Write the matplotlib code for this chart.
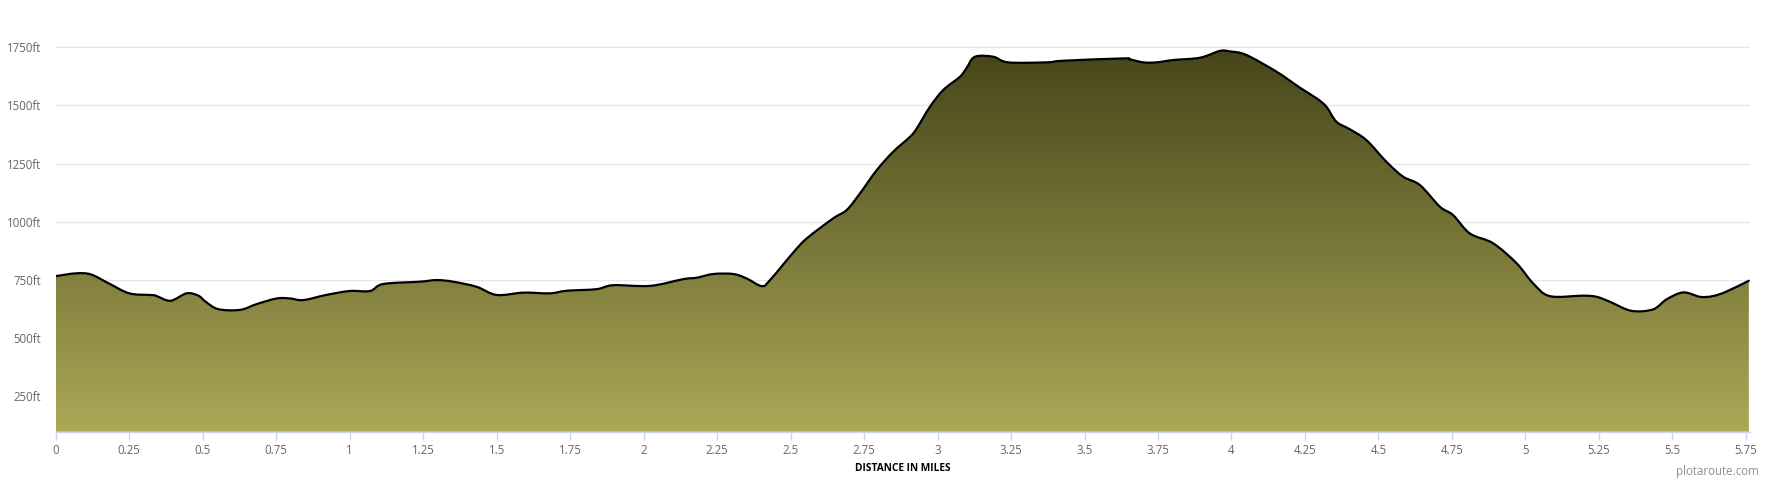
import matplotlib
matplotlib.use("Agg")
import matplotlib.pyplot as plt
import numpy as np
from matplotlib.colors import LinearSegmentedColormap
from matplotlib.path import Path
from matplotlib.patches import PathPatch

# distance in miles and elevation in feet
distance = [0.0, 0.07, 0.12, 0.18, 0.25, 0.32, 0.34, 0.39, 0.445, 0.485, 0.51, 0.553,
            0.627, 0.684, 0.752, 0.797, 0.842, 0.92, 1.0, 1.069, 1.114, 1.239, 1.296,
            1.352, 1.432, 1.5, 1.591, 1.681, 1.738, 1.84, 1.897, 2.022, 2.135, 2.18,
            2.237, 2.305, 2.35, 2.402, 2.43, 2.509, 2.555, 2.645, 2.691, 2.736, 2.793,
            2.849, 2.906, 2.929, 2.974, 3.019, 3.076, 3.098, 3.127, 3.19, 3.24, 3.371,
            3.428, 3.632, 3.654, 3.7, 3.745, 3.802, 3.893, 3.96, 3.995, 4.05, 4.153,
            4.233, 4.29, 4.323, 4.357, 4.402, 4.459, 4.527, 4.584, 4.641, 4.709, 4.754,
            4.811, 4.89, 4.97, 5.026, 5.083, 5.197, 5.242, 5.287, 5.36, 5.434, 5.48,
            5.537, 5.594, 5.637, 5.683, 5.76]
elevation = [767, 779, 774, 736, 693, 686, 683, 661, 693, 683, 657, 625,
             622, 647, 671, 671, 664, 686, 703, 703, 733, 743, 750,
             743, 721, 686, 696, 693, 704, 711, 728, 725, 754, 760,
             776, 776, 757, 724, 750, 868, 929, 1015, 1051, 1122, 1222,
             1301, 1365, 1401, 1494, 1566, 1623, 1659, 1709, 1709, 1685, 1685,
             1692, 1702, 1698, 1685, 1685, 1695, 1705, 1734, 1732, 1717, 1645,
             1576, 1530, 1494, 1430, 1398, 1351, 1258, 1194, 1158, 1065, 1029,
             950, 908, 822, 736, 681, 683, 678, 657, 618, 624, 667,
             697, 678, 681, 700, 747]

x_ticks = [0, 0.25, 0.5, 0.75, 1, 1.25, 1.5, 1.75, 2, 2.25, 2.5, 2.75, 3, 3.25,
           3.5, 3.75, 4, 4.25, 4.5, 4.75, 5, 5.25, 5.5, 5.75]
x_tick_labels = ["0", "0.25", "0.5", "0.75", "1", "1.25", "1.5", "1.75", "2", "2.25",
                 "2.5", "2.75", "3", "3.25", "3.5", "3.75", "4", "4.25", "4.5", "4.75",
                 "5", "5.25", "5.5", "5.75"]
y_ticks = [250, 500, 750, 1000, 1250, 1500, 1750]
y_tick_labels = ["250ft", "500ft", "750ft", "1000ft", "1250ft", "1500ft", "1750ft"]

plt.rcParams['font.family'] = ['Open Sans', 'DejaVu Sans']

fig = plt.figure(figsize=(17.7, 4.8), dpi=100)
ax = fig.add_axes([0.0315, 0.1006, 0.9572, 0.8369])

ymin, ymax = 98.7, 1824
xmin, xmax = 0, 5.764
ax.set_xlim(xmin, xmax)
ax.set_ylim(ymin, ymax)

x = np.array(distance, dtype=float)
y = np.array(elevation, dtype=float)


def spline_path_parts(xs, ys):
    """Cubic Bezier segments through the points (Catmull-Rom style), as a spline renderer draws."""
    n = len(xs)
    verts = [(xs[0], ys[0])]
    codes = [Path.MOVETO]
    for i in range(n - 1):
        x0, y0 = (xs[i - 1], ys[i - 1]) if i > 0 else (xs[i], ys[i])
        x1, y1 = xs[i], ys[i]
        x2, y2 = xs[i + 1], ys[i + 1]
        x3, y3 = (xs[i + 2], ys[i + 2]) if i + 2 < n else (xs[i + 1], ys[i + 1])
        c1 = (x1 + (x2 - x0) / 6.0, y1 + (y2 - y0) / 6.0)
        c2 = (x2 - (x3 - x1) / 6.0, y2 - (y3 - y1) / 6.0)
        verts += [c1, c2, (x2, y2)]
        codes += [Path.CURVE4] * 3
    return verts, codes


lv, lc = spline_path_parts(x, y)
line_path = Path(lv, lc)

# closed area for the gradient
av = lv + [(x[-1], ymin), (x[0], ymin), (x[0], y[0])]
ac = lc + [Path.LINETO, Path.LINETO, Path.CLOSEPOLY]
area_path = Path(av, ac)

cmap = LinearSegmentedColormap.from_list("olive", ["#ABA856", "#46461B"])
top = max(elevation)
grad = np.linspace(0, 1, 256).reshape(-1, 1)
im = ax.imshow(grad, extent=[xmin, xmax, ymin, top], origin="lower", aspect="auto",
               cmap=cmap, zorder=2, interpolation="bilinear")
clip = PathPatch(area_path, transform=ax.transData, facecolor="none", edgecolor="none")
ax.add_patch(clip)
im.set_clip_path(clip)

ax.add_patch(PathPatch(line_path, facecolor="none", edgecolor="black", lw=1.6,
                       zorder=3, joinstyle="round", capstyle="round"))
ax.set_xlim(xmin, xmax)
ax.set_ylim(ymin, ymax)

# grid and axes styling
for v in y_ticks:
    ax.axhline(v, color="#e6e6e6", lw=1, zorder=1)
for s in ["top", "right", "left"]:
    ax.spines[s].set_visible(False)
ax.spines["bottom"].set_color("#ccd6eb")
ax.spines["bottom"].set_linewidth(1)
ax.spines["bottom"].set_zorder(4)

ax.set_yticks(y_ticks)
ax.set_yticklabels(y_tick_labels)
ax.tick_params(axis="y", length=0, pad=10.5, labelsize=8.3, labelcolor="#666666")
ax.set_xticks(x_ticks)
ax.set_xticklabels(x_tick_labels)
ax.tick_params(axis="x", length=6, width=1, color="#ccd6eb", pad=2.5,
               labelsize=8.3, labelcolor="#666666")

ax.set_xlabel("DISTANCE IN MILES", fontsize=7.3, fontweight="bold", color="black",
              labelpad=5)
fig.text(0.9935, 0.0167, "plotaroute.com", ha="right", va="center",
         fontsize=8.3, color="#909090")

fig.savefig("out.png", dpi=100)
